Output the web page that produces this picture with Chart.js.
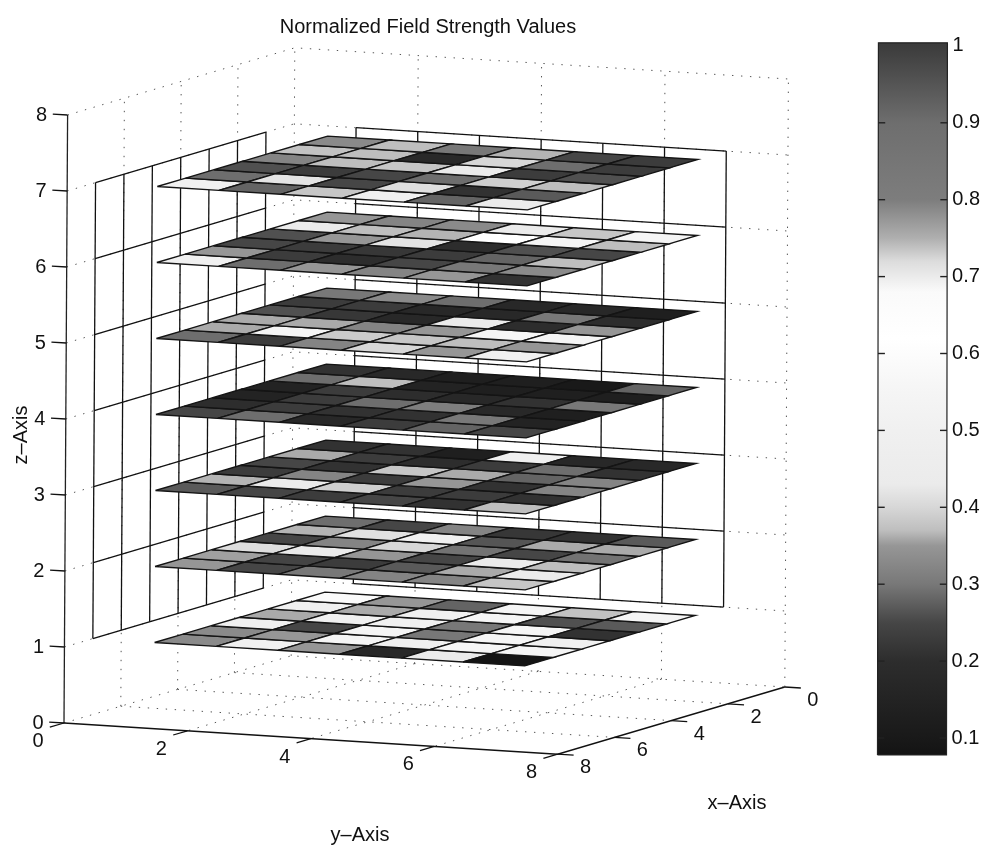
<!DOCTYPE html>
<html>
<head>
<meta charset="utf-8">
<title>Normalized Field Strength Values</title>
<script src="https://cdn.jsdelivr.net/npm/chart.js@4/dist/chart.umd.min.js"></script>
<style>
    html, body { margin: 0; padding: 0; background: #fff; }
    canvas { display: block; }
</style>
</head>
<body>
<canvas id="fieldChart" width="986" height="849"></canvas>
<script>
// cell values per slice, rows run from the front edge (x=7) to the back edge (x=1)
const slice1 = [
    [.33, .50, .35, .175, .43, .08],
    [.33, .35, .55, .50, .55, .55],
    [.50, .25, .55, .30, .55, .50],
    [.36, .50, .50, .30, .55, .21],
    [.50, .36, .50, .55, .26, .27],
    [.59, .35, .28, .55, .375, .55]
];
const slice2 = [
    [.35, .25, .30, .32, .32, .38],
    [.355, .245, .23, .27, .36, .43],
    [.41, .43, .35, .25, .43, .37],
    [.25, .32, .40, .295, .25, .295],
    [.365, .415, .50, .265, .36, .36],
    [.29, .25, .32, .22, .21, .27]
];
const slice3 = [
    [.27, .25, .23, .25, .21, .37],
    [.365, .43, .39, .23, .23, .21],
    [.23, .32, .23, .35, .21, .32],
    [.25, .21, .38, .36, .28, .32],
    [.36, .23, .20, .23, .29, .21],
    [.21, .21, .13, .50, .175, .175]
];
const slice4 = [
    [.25, .29, .175, .23, .28, .25],
    [.20, .23, .21, .21, .30, .15],
    [.15, .23, .29, .31, .175, .13],
    [.15, .23, .20, .175, .21, .30],
    [.29, .37, .15, .13, .13, .13],
    [.21, .175, .13, .13, .10, .28]
];
const slice5 = [
    [.29, .23, .32, .40, .35, .50],
    [.36, .55, .385, .38, .37, .35],
    [.36, .36, .32, .35, .55, .55],
    [.26, .22, .175, .43, .20, .35],
    [.23, .23, .175, .175, .30, .20],
    [.30, .33, .29, .175, .175, .13]
];
const slice6 = [
    [.50, .29, .35, .32, .35, .21],
    [.35, .23, .20, .25, .30, .33],
    [.25, .23, .22, .23, .28, .37],
    [.26, .35, .42, .20, .26, .25],
    [.43, .37, .365, .62, .55, .37],
    [.35, .32, .33, .43, .38, .55]
];
const slice7 = [
    [.50, .28, .38, .50, .28, .43],
    [.29, .42, .25, .41, .21, .27],
    [.26, .23, .25, .29, .39, .37],
    [.32, .37, .38, .43, .23, .26],
    [.375, .37, .18, .40, .29, .23],
    [.33, .37, .30, .365, .25, .23]
];
const slices = [slice1, slice2, slice3, slice4, slice5, slice6, slice7];
const sliceLevels = [1, 2, 3, 4, 5, 6, 7];

const xTicks = [0, 2, 4, 6, 8];
const yTicks = [0, 2, 4, 6, 8];
const zTicks = [0, 1, 2, 3, 4, 5, 6, 7, 8];
const wallLines = [1, 2, 3, 4, 5, 6, 7];
const colorbarTicks = [0.1, 0.2, 0.3, 0.4, 0.5, 0.6, 0.7, 0.8, 0.9, 1];

// colormap of the scan: value -> gray level
const mapValues = [.08, .1, .15, .2, .25, .27, .3, .35, .37, .4, .43, .5, .55, .62, .68, .7, .72, .75, .8, .9, 1];
const mapGrays = [20, 25, 35, 45, 70, 90, 120, 150, 190, 215, 235, 240, 245, 255, 250, 235, 220, 175, 125, 110, 60];

// orthographic view of the 3D box
function project(x, y, z) {
    return {
        x: 64 + y * 61.7 + (8 - x) * 28.4 + z * 0.45,
        y: 723 + y * 3.9 - (8 - x) * 8.4 - z * 76
    };
}

// colorbar: f is 0..1 across the bar, v is the value
function barPoint(f, v) {
    return { x: 877.5 + f * 69 + (v - 0.08), y: 738 - (v - 0.1) * 769 };
}

function grayFor(v) {
    let i = 0;
    while (i < mapValues.length - 2 && v > mapValues[i + 1]) i++;
    const t = (v - mapValues[i]) / (mapValues[i + 1] - mapValues[i]);
    const g = Math.round(mapGrays[i] + t * (mapGrays[i + 1] - mapGrays[i]));
    return `rgb(${g},${g},${g})`;
}

const datasets = [];

function addLine(points, color, width, dash) {
    datasets.push({
        data: points, showLine: true, fill: false, borderColor: color, borderWidth: width,
        borderDash: dash || [], pointRadius: 0, tension: 0
    });
}

const dotted = [1.4, 7.6];
const dotColor = "#555";

// dotted grid on floor and the two back planes
zTicks.forEach(z => {
    addLine([project(8, 0, z), project(0, 0, z), project(0, 8, z)], dotColor, 1, dotted);
});
[0, 2, 4, 6].forEach(x => addLine([project(x, 0, 0), project(x, 0, 8)], dotColor, 1, dotted));
[2, 4, 6, 8].forEach(y => addLine([project(0, y, 0), project(0, y, 8)], dotColor, 1, dotted));
[2, 4, 6].forEach(x => addLine([project(x, 0, 0), project(x, 8, 0)], dotColor, 1, dotted));
[2, 4, 6].forEach(y => addLine([project(0, y, 0), project(8, y, 0)], dotColor, 1, dotted));

// solid wall grids, plane y=0 and plane x=0
wallLines.forEach(k => {
    addLine([project(k, 0, 1), project(k, 0, 7)], "#111", 1.3);
    addLine([project(7, 0, k), project(1, 0, k)], "#111", 1.3);
    addLine([project(0, k, 1), project(0, k, 7)], "#111", 1.3);
    addLine([project(0, 1, k), project(0, 7, k)], "#111", 1.3);
});

// axes and tick marks
addLine([project(8, 0, 0), project(8, 0, 8)], "#222", 1.3);
addLine([project(8, 0, 0), project(8, 8, 0), project(0, 8, 0)], "#111", 1.4);
zTicks.forEach(z => addLine([project(8, 0, z), project(8, -0.24, z)], "#111", 1.3));
yTicks.forEach(y => addLine([project(8, y, 0), project(8.5, y, 0)], "#111", 1.3));
xTicks.forEach(x => addLine([project(x, 8, 0), project(x, 8.26, 0)], "#111", 1.3));

// slices, bottom one first
slices.forEach((rows, s) => {
    const z = sliceLevels[s];
    rows.forEach((row, j) => {
        row.forEach((value, i) => {
            const x0 = 7 - j, y0 = 1 + i;
            datasets.push({
                data: [project(x0, y0, z), project(x0, y0 + 1, z), project(x0 - 1, y0 + 1, z), project(x0 - 1, y0, z), project(x0, y0, z)],
                showLine: true, fill: "shape", backgroundColor: grayFor(value),
                borderColor: "#141414", borderWidth: 1.4, pointRadius: 0, tension: 0
            });
        });
    });
});

// colorbar
const canvas = document.getElementById("fieldChart");
const ctx = canvas.getContext("2d");
const barTop = barPoint(0, 1.004).y, barBottom = barPoint(0, 0.078).y;
const barGradient = ctx.createLinearGradient(0, barBottom, 0, barTop);
mapValues.forEach((v, i) => {
    const g = mapGrays[i];
    barGradient.addColorStop((barPoint(0, v).y - barBottom) / (barTop - barBottom), `rgb(${g},${g},${g})`);
});
datasets.push({
    data: [barPoint(0, 0.078), barPoint(1, 0.078), barPoint(1, 1.004), barPoint(0, 1.004), barPoint(0, 0.078)],
    showLine: true, fill: "shape", backgroundColor: barGradient,
    borderColor: "#222", borderWidth: 1.2, pointRadius: 0, tension: 0
});
colorbarTicks.slice(0, -1).forEach(v => {
    addLine([barPoint(0, v), barPoint(0.1, v)], "#222", 1.4);
    addLine([barPoint(0.9, v), barPoint(1, v)], "#222", 1.4);
});

// first dataset must be painted first
datasets.forEach((d, idx) => { d.order = -idx; });

const textPlugin = {
    id: "boxText",
    afterDatasetsDraw(chart) {
        const c = chart.ctx;
        const sx = chart.scales.x, sy = chart.scales.y;
        const put = (text, p, dx, dy, align) => {
            c.textAlign = align || "center";
            c.fillText(text, sx.getPixelForValue(p.x) + dx, sy.getPixelForValue(p.y) + dy);
        };
        c.save();
        c.font = "20px 'Liberation Sans', Arial, sans-serif";
        c.fillStyle = "#111";
        c.textBaseline = "middle";
        put("Normalized Field Strength Values", { x: 428, y: 27 }, 0, 0);
        zTicks.forEach(z => put(String(z), project(8, 0, z), -26, 0));
        yTicks.forEach(y => put(String(y), project(8, y, 0), -26, 18.5));
        xTicks.forEach(x => put(String(x), project(x, 8, 0), 28, 13.5));
        colorbarTicks.forEach(v => put(String(v), barPoint(1, v), 5, 0, "left"));
        put("y–Axis", { x: 360, y: 835 }, 0, 0);
        put("x–Axis", { x: 737, y: 803 }, 0, 0);
        c.translate(sx.getPixelForValue(21), sy.getPixelForValue(435));
        c.rotate(-Math.PI / 2);
        c.textAlign = "center";
        c.fillText("z–Axis", 0, 0);
        c.restore();
    }
};

new Chart(ctx, {
    type: "scatter",
    data: { datasets },
    plugins: [textPlugin],
    options: {
        responsive: false,
        animation: false,
        layout: { padding: 0 },
        plugins: { legend: { display: false }, tooltip: { enabled: false } },
        scales: {
            x: { type: "linear", min: 0, max: 986, display: false },
            y: { type: "linear", min: 0, max: 849, reverse: true, display: false }
        }
    }
});
</script>
</body>
</html>
